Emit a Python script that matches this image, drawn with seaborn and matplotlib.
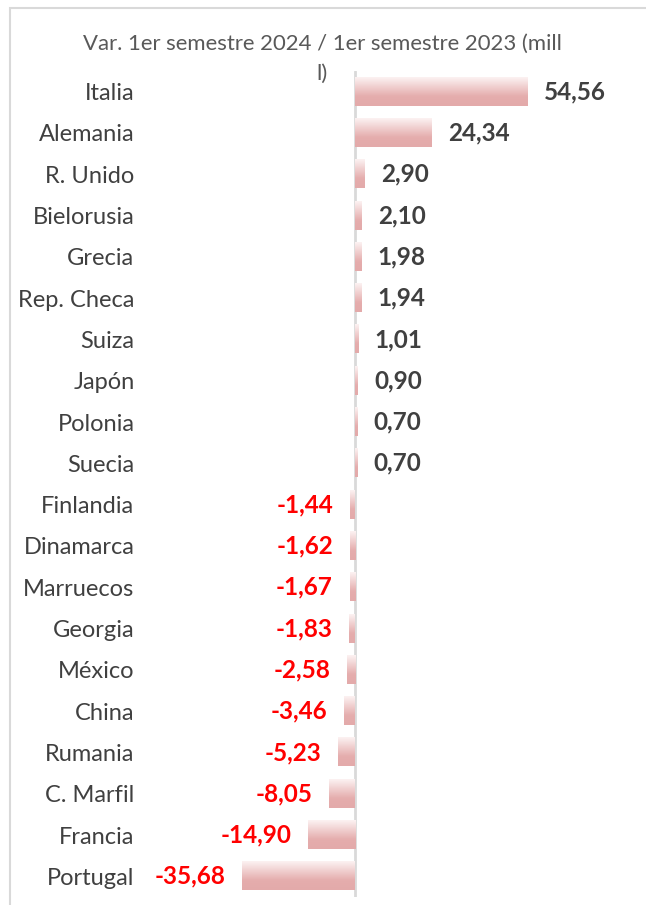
import numpy as np
import pandas as pd
import matplotlib
matplotlib.use('Agg')
import matplotlib.pyplot as plt
import seaborn as sns
from matplotlib.colors import LinearSegmentedColormap
from matplotlib.patches import Rectangle

paises = ['Italia', 'Alemania', 'R. Unido', 'Bielorusia', 'Grecia', 'Rep. Checa',
          'Suiza', 'Japón', 'Polonia', 'Suecia', 'Finlandia', 'Dinamarca',
          'Marruecos', 'Georgia', 'México', 'China', 'Rumania', 'C. Marfil',
          'Francia', 'Portugal']
variacion = [54.56, 24.34, 2.90, 2.10, 1.98, 1.94, 1.01, 0.90, 0.70, 0.70,
             -1.44, -1.62, -1.67, -1.83, -2.58, -3.46, -5.23, -8.05, -14.90, -35.68]
titulo = 'Var. 1er semestre 2024 / 1er semestre 2023 (mill\nl)'

df = pd.DataFrame({'pais': paises, 'var': variacion})

sns.set_theme(style='white')
plt.rcParams['font.family'] = ['Lato', 'DejaVu Sans']

W, H = 646, 905
fig = plt.figure(figsize=(W / 100, H / 100), dpi=100)
ax = fig.add_axes([140 / W, 1 - 897 / H, 500 / W, (897 - 71) / H])

sns.barplot(data=df, x='var', y='pais', orient='h', ax=ax, width=0.68,
            color='#e6b0b0', saturation=1)

# gradiente vertical en cada barra (claro arriba, oscuro abajo)
cmap = LinearSegmentedColormap.from_list('grad', ['#fcf2f2', '#f0cfcf', '#e5adad', '#e3aaaa'])
grad = np.linspace(0, 1, 64).reshape(-1, 1)
for p in ax.patches:
    x0, y0 = p.get_x(), p.get_y()
    w, h = p.get_width(), p.get_height()
    ax.imshow(grad, cmap=cmap, aspect='auto', origin='lower',
              extent=(x0, x0 + w, y0, y0 + h), zorder=2, interpolation='bilinear')
    p.set_visible(False)

ax.set_xlim(-68, 90.2)
ax.set_ylim(19.5, -0.5)
ax.axvline(0, color='#d9d9d9', lw=2, zorder=1)

for i, v in enumerate(variacion):
    txt = f'{v:.2f}'.replace('.', ',')
    if v >= 0:
        ax.annotate(txt, (v, i), xytext=(12, 0), textcoords='offset points',
                    ha='left', va='center', fontsize=17.5, fontweight='bold', color='#404040')
    else:
        ax.annotate(txt, (v, i), xytext=(-12, 0), textcoords='offset points',
                    ha='right', va='center', fontsize=17.5, fontweight='bold', color='#ff0000')

ax.set_xlabel('')
ax.set_ylabel('')
ax.set_xticks([])
ax.tick_params(axis='y', length=0, pad=4, labelsize=17, labelcolor='#404040')
for s in ax.spines.values():
    s.set_visible(False)

fig.text(322 / W, 1 - 34 / H, titulo, ha='center', va='top', fontsize=15.9,
         color='#595959', linespacing=1.6)

fig.patches.append(Rectangle((10 / W, -0.05), 1.2, 1 - 8 / H + 0.05, transform=fig.transFigure,
                             fill=False, edgecolor='#d9d9d9', lw=1.5))

fig.savefig('out.png', dpi=100)
